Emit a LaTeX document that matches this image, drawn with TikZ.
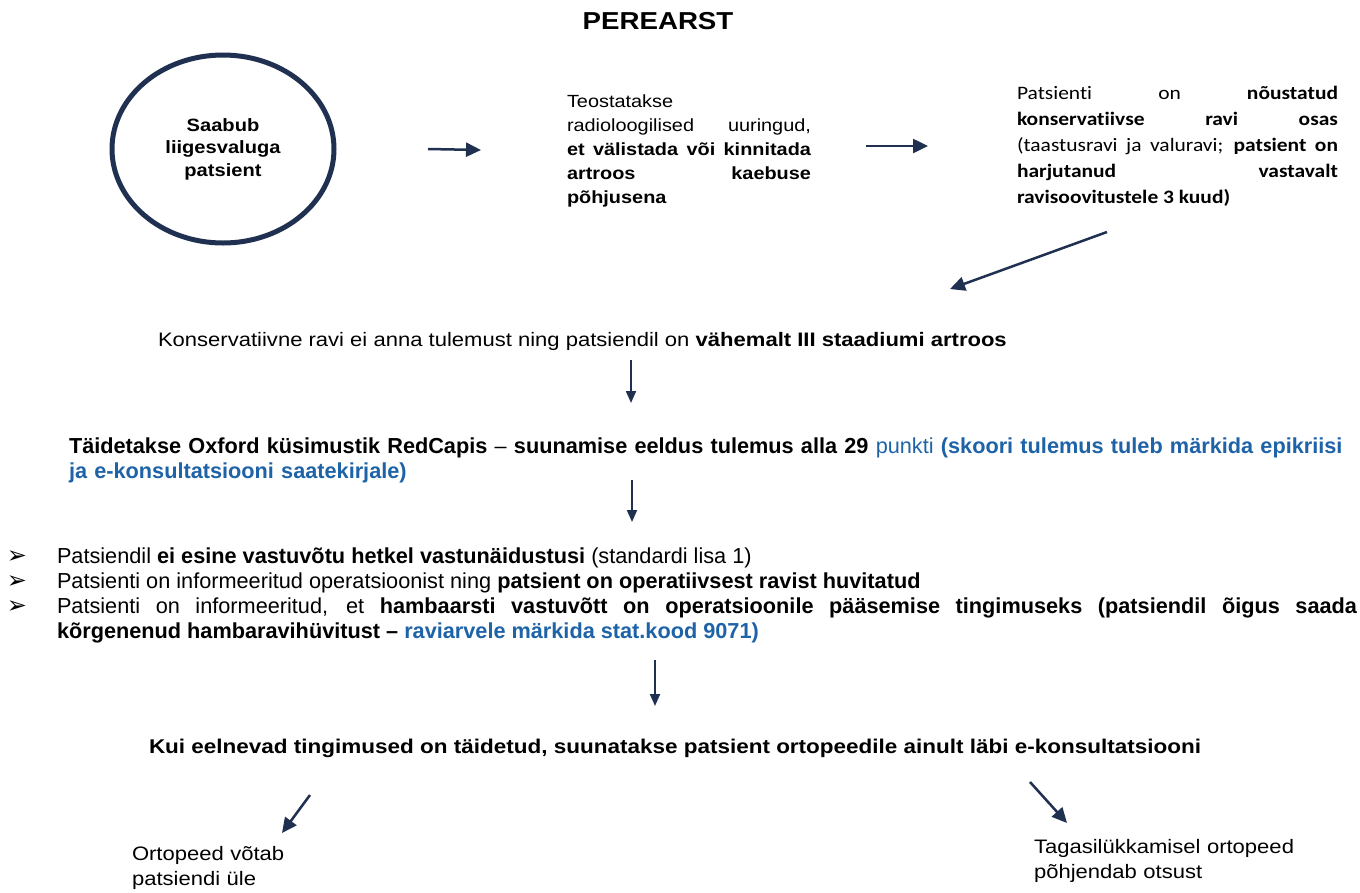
\documentclass[tikz,border=0pt]{standalone}
\usepackage{fontspec}
\setmainfont{Liberation Sans}[FakeStretch=1.13]
\newfontfamily\calfont{Carlito}[FakeStretch=1.13, Ligatures=NoCommon]
\newfontfamily\narfont{Liberation Sans}[FakeStretch=1.0]
\newfontfamily\symfont{DejaVu Sans}
\usetikzlibrary{arrows.meta,shapes.geometric}
\definecolor{navy}{HTML}{203050}
\definecolor{txtblue}{HTML}{1E63A8}
\tikzset{
  txt/.style={inner sep=0pt, outer sep=0pt, anchor=base west},
  arr/.style={draw=navy, line width=2.5pt, -{Triangle[length=15pt,width=14pt]}},
  varr/.style={draw=navy, line width=2pt, -{Triangle[length=12pt,width=10pt]}},
  bul/.style={inner sep=0pt, anchor=base, font=\symfont\fontsize{24}{24}\selectfont},
  nar/.style={font=\narfont\fontsize{21.7}{25}\selectfont},
}
\begin{document}
\begin{tikzpicture}[x=1pt,y=-1pt]
\useasboundingbox (0,0) rectangle (1360,892);
\fill[white] (0,0) rectangle (1360,892);

\node[txt, anchor=base, font=\fontsize{24.5}{28}\selectfont\bfseries] (title) at (658,29) {PEREARST};

\node[ellipse, draw=navy, line width=5pt, minimum width=222pt, minimum height=188pt, inner sep=0pt, align=center,
      font=\fontsize{17.8}{22.5}\selectfont\bfseries] (circ) at (223,149) {Saabub\\liigesvaluga\\patsient};

\node[txt, text width=244pt, align=justify, font=\fontsize{17.6}{24}\selectfont] (radio) at (567,107)
  {\emergencystretch=2em Teostatakse\\ radioloogilised uuringud,\linebreak
   \textbf{et välistada või kinnitada\linebreak artroos kaebuse\linebreak põhjusena}};

\node[txt, text width=321pt, align=justify, font=\calfont\fontsize{19}{26}\selectfont] (cons) at (1017,99)
  {\emergencystretch=2em Patsienti on \textbf{nõustatud}\linebreak
   \textbf{konservatiivse ravi osas}\linebreak
   (taastusravi ja valuravi; \textbf{patsient on}\linebreak
   \textbf{harjutanud vastavalt}\linebreak
   \textbf{ravisoovitustele 3 kuud)}};

\node[txt, font=\fontsize{19.5}{23}\selectfont] (konserv) at (158,346)
  {Konservatiivne ravi ei anna tulemust ning patsiendil on \textbf{vähemalt III staadiumi artroos}};

\node[txt, nar, text width=1320pt, align=left] (oxford) at (69,453)
  {\hyphenpenalty=10000 \textbf{Täidetakse Oxford küsimustik RedCapis} – \textbf{suunamise eeldus tulemus alla 29} \textcolor{txtblue}{punkti \textbf{(skoori tulemus tuleb märkida epikriisi}}\\
   \textcolor{txtblue}{\textbf{ja e-konsultatsiooni saatekirjale)}}};

\node[bul] (m1) at (17,563) {➢};
\node[bul] (m2) at (17,588) {➢};
\node[bul] (m3) at (17,613) {➢};

\node[txt, nar] (b1) at (57,563)
  {Patsiendil \textbf{ei esine vastuvõtu hetkel vastunäidustusi} (standardi lisa 1)};
\node[txt, nar] (b2) at (57,588)
  {Patsienti on informeeritud operatsioonist ning \textbf{patsient on operatiivsest ravist huvitatud}};
\node[txt, nar, text width=1300pt, align=justify] (b3) at (57,613)
  {\emergencystretch=2em\hyphenpenalty=10000 Patsienti on informeeritud, et \textbf{hambaarsti vastuvõtt on operatsioonile pääsemise tingimuseks (patsiendil õigus saada\linebreak
   kõrgenenud hambaravihüvitust – \textcolor{txtblue}{raviarvele märkida stat.kood 9071)}}};

\node[txt, font=\fontsize{19.9}{23}\selectfont\bfseries] (kui) at (149,753)
  {Kui eelnevad tingimused on täidetud, suunatakse patsient ortopeedile ainult läbi e-konsultatsiooni};

\node[txt, text width=220pt, align=left, font=\fontsize{19.5}{25}\selectfont] (votab) at (132,860)
  {Ortopeed võtab\\ patsiendi üle};
\node[txt, text width=300pt, align=left, font=\fontsize{19.5}{25}\selectfont] (tagasi) at (1034,853)
  {Tagasilükkamisel ortopeed\\ põhjendab otsust};

\coordinate (a1s) at (428,149); \coordinate (a1e) at (481,150);
\coordinate (a2s) at (866,146); \coordinate (a2e) at (928,146);
\coordinate (a3s) at (1107,232); \coordinate (a3e) at (950,289);
\coordinate (a4s) at (631,360); \coordinate (a4e) at (631,403);
\coordinate (a5s) at (632,480); \coordinate (a5e) at (632,522);
\coordinate (a6s) at (655,660); \coordinate (a6e) at (655,706);
\coordinate (a7s) at (310,795); \coordinate (a7e) at (282,833);
\coordinate (a8s) at (1030,782); \coordinate (a8e) at (1067,823);

\draw[arr] (a1s) -- (a1e);
\draw[arr] (a2s) -- (a2e);
\draw[arr] (a3s) -- (a3e);
\draw[varr] (a4s) -- (a4e);
\draw[varr] (a5s) -- (a5e);
\draw[varr] (a6s) -- (a6e);
\draw[arr] (a7s) -- (a7e);
\draw[arr] (a8s) -- (a8e);
\end{tikzpicture}
\end{document}
